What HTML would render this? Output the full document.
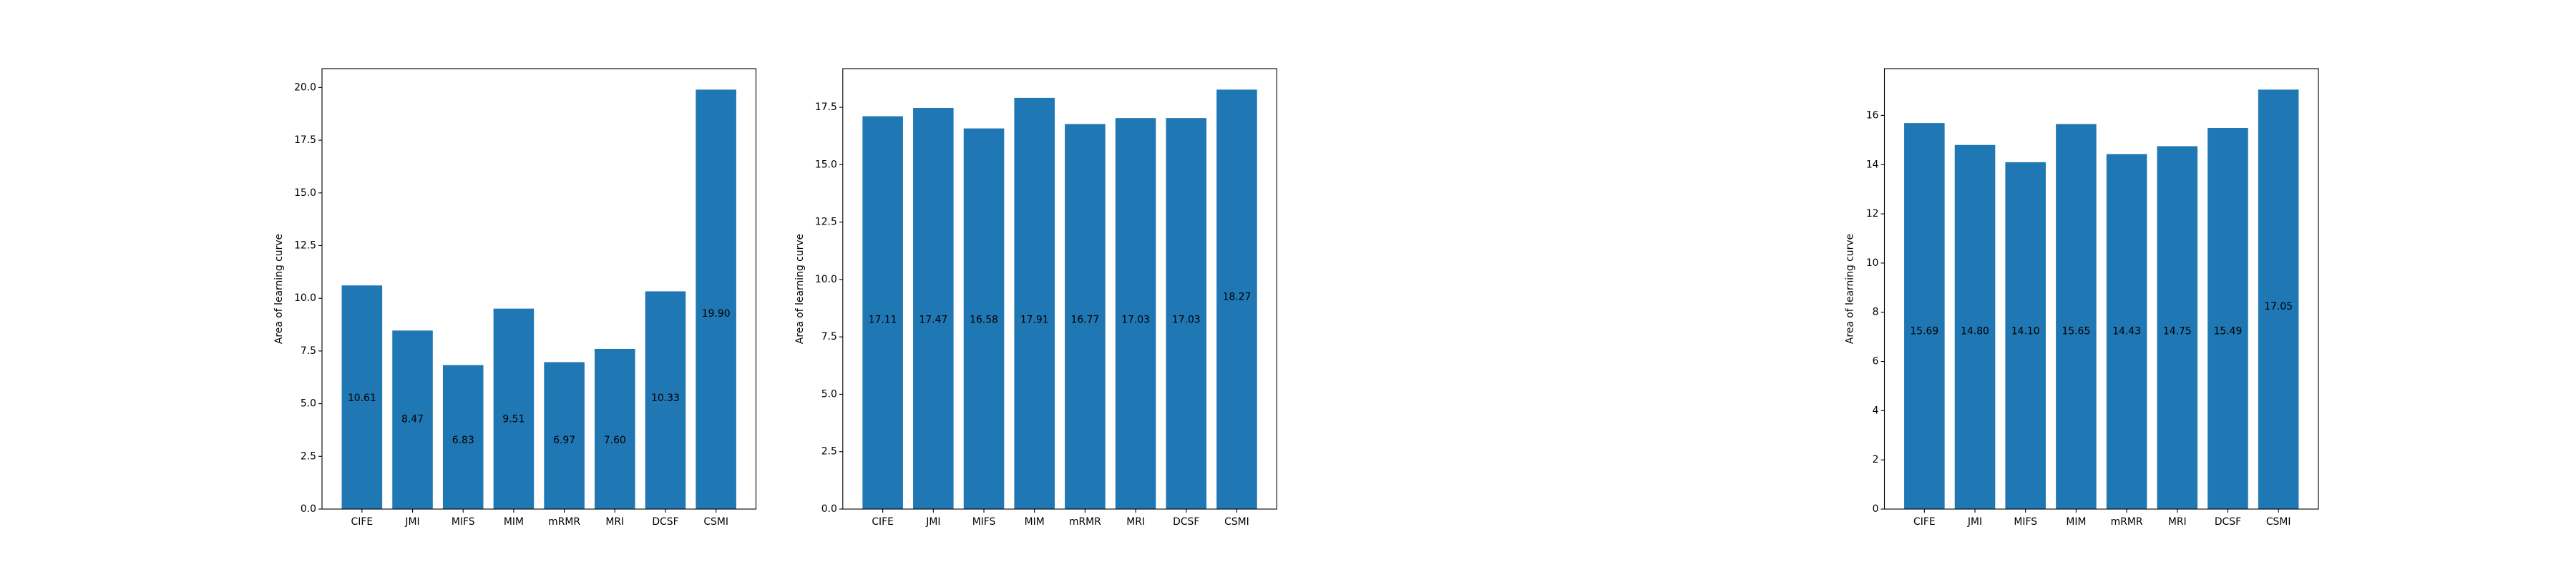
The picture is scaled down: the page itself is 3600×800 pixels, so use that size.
<!DOCTYPE html>
<html><head><meta charset="utf-8"><style>
html,body{margin:0;padding:0;background:#fff;}
svg{display:block;font-family:"DejaVu Sans","Liberation Sans",sans-serif;}
</style></head><body>
<svg id="fig" width="3600" height="800" viewBox="0 0 3600 800"></svg>
<script>
const categories = ["CIFE","JMI","MIFS","MIM","mRMR","MRI","DCSF","CSMI"];
const valuesA = [10.61,8.47,6.83,9.51,6.97,7.60,10.33,19.90];
const valuesB = [17.11,17.47,16.58,17.91,16.77,17.03,17.03,18.27];
const valuesC = [15.69,14.80,14.10,15.65,14.43,14.75,15.49,17.05];
const ticksA = [0,2.5,5,7.5,10,12.5,15,17.5,20];
const ticksB = [0,2.5,5,7.5,10,12.5,15,17.5];
const ticksC = [0,2,4,6,8,10,12,14,16];

const NS = "http://www.w3.org/2000/svg";
const fig = document.getElementById('fig');
function mk(tag, attrs, parent){
  const e = document.createElementNS(NS, tag);
  for (const k in attrs) e.setAttribute(k, attrs[k]);
  parent.appendChild(e); return e;
}
function drawChart(name, x0, w, values, ticks, decimals){
  const top = 96, bottom = 712;
  const ymax = Math.max(...values) * 1.05;
  const xmin = -0.79, xmax = categories.length - 1 + 0.79;
  const sx = v => x0 + (v - xmin) / (xmax - xmin) * w;
  const sy = v => bottom - v / ymax * (bottom - top);
  const g = mk('g', {}, fig);
  
  
  values.forEach((v, i) => {
    const r = mk('rect', {x: sx(i - 0.4), y: sy(v), width: sx(i + 0.4) - sx(i - 0.4), height: bottom - sy(v), fill: '#1f77b4'}, g);
    
    
    const t = mk('text', {x: sx(i), y: sy(Math.floor(v / 2)) - 3.5, 'font-size': '13.9', 'text-anchor': 'middle', fill: '#000'}, g);
    t.textContent = v.toFixed(2);
    
    
    const tk = mk('line', {x1: sx(i), x2: sx(i), y1: bottom, y2: bottom + 4.9, stroke: '#000', 'stroke-width': 1.1}, g);
    
    
    const tl = mk('text', {x: sx(i), y: bottom + 22, 'font-size': '13.9', 'text-anchor': 'middle', fill: '#000'}, g);
    tl.textContent = categories[i];
    
    
  });
  ticks.forEach(v => {
    const tk = mk('line', {x1: x0 - 4.9, x2: x0, y1: sy(v), y2: sy(v), stroke: '#000', 'stroke-width': 1.1}, g);
    
    
    const tl = mk('text', {x: x0 - 8, y: sy(v), 'font-size': '13.9', 'text-anchor': 'end', 'dominant-baseline': 'central', fill: '#000'}, g);
    tl.textContent = v.toFixed(decimals);
    
    
  });
  const fr = mk('rect', {x: x0, y: top, width: w, height: bottom - top, fill: 'none', stroke: '#000', 'stroke-width': 1.1}, g);
  
  
  const yl = decimals ? 56 : 44;
  const at = mk('text', {x: 0, y: 0, 'font-size': '13.9', 'text-anchor': 'middle', fill: '#000', transform: `translate(${x0 - yl},${(top + bottom) / 2}) rotate(-90)`}, g);
  at.textContent = 'Area of learning curve';
  
  
}
const W = 606.5;
drawChart('chart-1', 450, W, valuesA, ticksA, 1);
drawChart('chart-2', 1177.8, W, valuesB, ticksB, 1);
drawChart('chart-4', 2633.5, W, valuesC, ticksC, 0);
</script>
</body></html>
